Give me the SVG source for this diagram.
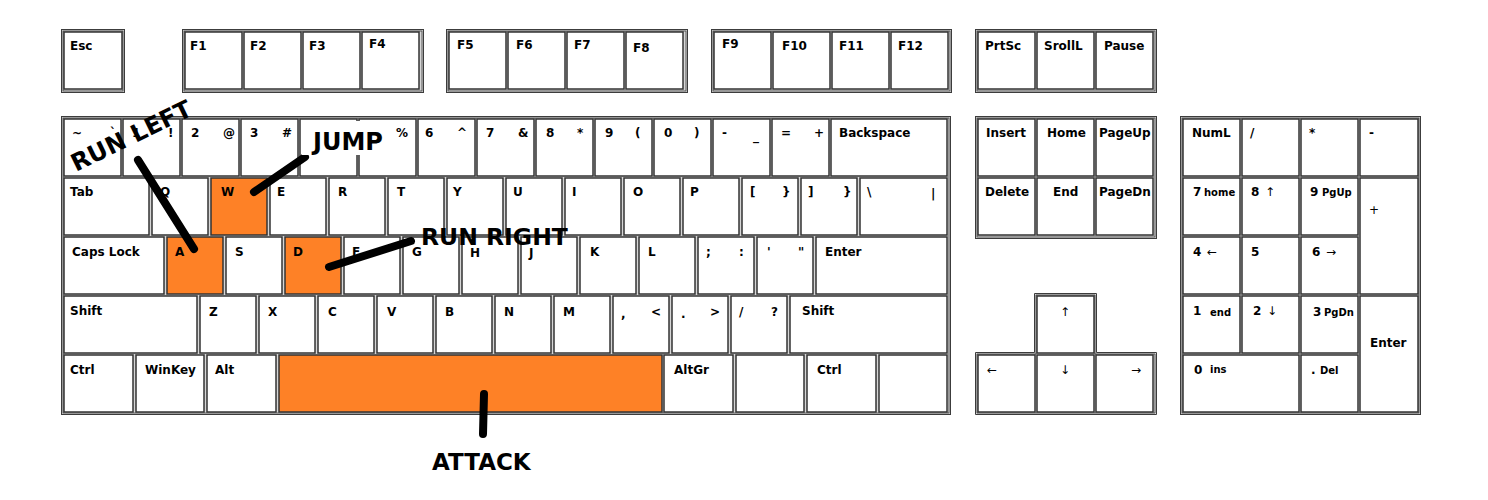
<svg xmlns="http://www.w3.org/2000/svg" width="1488" height="500" viewBox="0 0 1488 500">
<style>
.grp{fill:#d6d6d6;stroke:#3c3c3c;stroke-width:1}
.gin{fill:none;stroke:#3c3c3c;stroke-width:0.8}
.k{fill:#fff;stroke:#333;stroke-width:1.5}
.o{fill:#fe8126}
text{font-family:"DejaVu Sans",sans-serif;font-size:12px;font-weight:bold;fill:#000}
.s{font-size:10px}
.ar{font-weight:normal;fill:#000}
.big{font-size:24px}
.conn{stroke:#000;stroke-width:8;stroke-linecap:round;fill:none}
</style>
<rect width="1488" height="500" fill="#fff"/>
<g id="groups">
<rect class="grp" x="61.5" y="29.5" width="63" height="63"/><rect class="gin" x="63" y="31" width="60" height="60"/>
<rect class="grp" x="182.5" y="29.5" width="241" height="63"/><rect class="gin" x="184" y="31" width="238" height="60"/>
<rect class="grp" x="446.5" y="29.5" width="241" height="63"/><rect class="gin" x="448" y="31" width="238" height="60"/>
<rect class="grp" x="711.5" y="29.5" width="240" height="63"/><rect class="gin" x="713" y="31" width="237" height="60"/>
<rect class="grp" x="975.5" y="29.5" width="181" height="63"/><rect class="gin" x="977" y="31" width="178" height="60"/>
<rect class="grp" x="61.5" y="116.5" width="889" height="298"/><rect class="gin" x="63" y="118" width="886" height="295"/>
<rect class="grp" x="975.5" y="116.5" width="181" height="122"/><rect class="gin" x="977" y="118" width="178" height="119"/>
<path class="grp" d="M1034.5 293.5H1096.5V352.5H1156.5V414.5H975.5V352.5H1034.5Z"/>
<path class="gin" d="M1036 295H1095V354H1155V413H977V354H1036Z"/>
<rect class="grp" x="1180.5" y="116.5" width="240" height="298"/><rect class="gin" x="1182" y="118" width="237" height="295"/>
</g>
<g id="fn-row">
<g id="key-esc"><rect class="k" x="64" y="32" width="58" height="57"/><text x="70" y="50">Esc</text></g>
<g id="key-f1"><rect class="k" x="185" y="32" width="57" height="57"/><text x="190" y="50">F1</text></g>
<g id="key-f2"><rect class="k" x="244" y="32" width="57" height="57"/><text x="250" y="50">F2</text></g>
<g id="key-f3"><rect class="k" x="303" y="32" width="57" height="57"/><text x="309" y="50">F3</text></g>
<g id="key-f4"><rect class="k" x="362" y="32" width="57" height="57"/><text x="369" y="48">F4</text></g>
<g id="key-f5"><rect class="k" x="449" y="32" width="57" height="57"/><text x="457" y="49">F5</text></g>
<g id="key-f6"><rect class="k" x="508" y="32" width="57" height="57"/><text x="516" y="49">F6</text></g>
<g id="key-f7"><rect class="k" x="567" y="32" width="57" height="57"/><text x="574" y="49">F7</text></g>
<g id="key-f8"><rect class="k" x="626" y="32" width="57" height="57"/><text x="633" y="52">F8</text></g>
<g id="key-f9"><rect class="k" x="714" y="32" width="57" height="57"/><text x="722" y="48">F9</text></g>
<g id="key-f10"><rect class="k" x="773" y="32" width="57" height="57"/><text x="782" y="50">F10</text></g>
<g id="key-f11"><rect class="k" x="832" y="32" width="57" height="57"/><text x="839" y="50">F11</text></g>
<g id="key-f12"><rect class="k" x="891" y="32" width="57" height="57"/><text x="898" y="50">F12</text></g>
<g id="key-prtsc"><rect class="k" x="978" y="32" width="57" height="57"/><text x="985" y="50">PrtSc</text></g>
<g id="key-scroll"><rect class="k" x="1037" y="32" width="57" height="57"/><text x="1044" y="50">SrollL</text></g>
<g id="key-pause"><rect class="k" x="1096" y="32" width="57" height="57"/><text x="1104" y="50">Pause</text></g>
</g>
<g id="row1">
<g id="key-tilde"><rect class="k" x="64" y="119" width="57" height="57"/><text x="72" y="137">~</text><text x="110" y="137">`</text></g>
<g id="key-1"><rect class="k" x="123" y="119" width="57" height="57"/><text x="132" y="137">1</text><text x="168" y="137">!</text></g>
<g id="key-2"><rect class="k" x="182" y="119" width="57" height="57"/><text x="191" y="137">2</text><text x="223" y="137">@</text></g>
<g id="key-3"><rect class="k" x="241" y="119" width="57" height="57"/><text x="250" y="137">3</text><text x="282" y="137">#</text></g>
<g id="key-4"><rect class="k" x="300" y="119" width="57" height="57"/></g>
<g id="key-5"><rect class="k" x="359" y="119" width="57" height="57"/><text x="396" y="137">%</text></g>
<g id="key-6"><rect class="k" x="418" y="119" width="57" height="57"/><text x="425" y="137">6</text><text x="457" y="137">^</text></g>
<g id="key-7"><rect class="k" x="477" y="119" width="57" height="57"/><text x="486" y="137">7</text><text x="518" y="137">&amp;</text></g>
<g id="key-8"><rect class="k" x="536" y="119" width="57" height="57"/><text x="546" y="137">8</text><text x="577" y="137">*</text></g>
<g id="key-9"><rect class="k" x="595" y="119" width="57" height="57"/><text x="605" y="137">9</text><text x="635" y="137">(</text></g>
<g id="key-0"><rect class="k" x="654" y="119" width="57" height="57"/><text x="664" y="137">0</text><text x="694" y="137">)</text></g>
<g id="key-minus"><rect class="k" x="713" y="119" width="57" height="57"/><text x="722" y="137">-</text><text x="753" y="140">_</text></g>
<g id="key-equal"><rect class="k" x="772" y="119" width="57" height="57"/><text x="781" y="137">=</text><text x="814" y="137">+</text></g>
<g id="key-backspace"><rect class="k" x="831" y="119" width="116" height="57"/><text x="839" y="137">Backspace</text></g>
</g>
<g id="row2">
<g id="key-tab"><rect class="k" x="64" y="178" width="85" height="57"/><text x="70" y="196">Tab</text></g>
<g id="key-q"><rect class="k" x="152" y="178" width="56" height="57"/><text x="160" y="196">Q</text></g>
<g id="key-w"><rect class="k o" x="211" y="178" width="56" height="57"/><text x="221" y="196">W</text></g>
<g id="key-e"><rect class="k" x="270" y="178" width="56" height="57"/><text x="277" y="196">E</text></g>
<g id="key-r"><rect class="k" x="329" y="178" width="56" height="57"/><text x="338" y="196">R</text></g>
<g id="key-t"><rect class="k" x="388" y="178" width="56" height="57"/><text x="397" y="196">T</text></g>
<g id="key-y"><rect class="k" x="447" y="178" width="56" height="57"/><text x="453" y="196">Y</text></g>
<g id="key-u"><rect class="k" x="506" y="178" width="56" height="57"/><text x="513" y="196">U</text></g>
<g id="key-i"><rect class="k" x="565" y="178" width="56" height="57"/><text x="572" y="196">I</text></g>
<g id="key-o"><rect class="k" x="624" y="178" width="56" height="57"/><text x="633" y="196">O</text></g>
<g id="key-p"><rect class="k" x="683" y="178" width="56" height="57"/><text x="690" y="196">P</text></g>
<g id="key-lbracket"><rect class="k" x="742" y="178" width="56" height="57"/><text x="750" y="196">[</text><text x="782" y="196">}</text></g>
<g id="key-rbracket"><rect class="k" x="801" y="178" width="56" height="57"/><text x="808" y="196">]</text><text x="843" y="196">}</text></g>
<g id="key-backslash"><rect class="k" x="860" y="178" width="87" height="57"/><text x="867" y="196">\</text><text x="931" y="198">|</text></g>
</g>
<g id="row3">
<g id="key-caps"><rect class="k" x="64" y="237" width="100" height="57"/><text x="72" y="256">Caps Lock</text></g>
<g id="key-a"><rect class="k o" x="167" y="237" width="56" height="57"/><text x="175" y="256">A</text></g>
<g id="key-s"><rect class="k" x="226" y="237" width="56" height="57"/><text x="235" y="256">S</text></g>
<g id="key-d"><rect class="k o" x="285" y="237" width="56" height="57"/><text x="293" y="256">D</text></g>
<g id="key-f"><rect class="k" x="344" y="237" width="56" height="57"/><text x="352" y="256">F</text></g>
<g id="key-g"><rect class="k" x="403" y="237" width="56" height="57"/><text x="412" y="256">G</text></g>
<g id="key-h"><rect class="k" x="462" y="237" width="56" height="57"/><text x="470" y="257">H</text></g>
<g id="key-j"><rect class="k" x="521" y="237" width="56" height="57"/><text x="529" y="257">J</text></g>
<g id="key-k"><rect class="k" x="580" y="237" width="56" height="57"/><text x="590" y="256">K</text></g>
<g id="key-l"><rect class="k" x="639" y="237" width="56" height="57"/><text x="648" y="256">L</text></g>
<g id="key-semicolon"><rect class="k" x="698" y="237" width="56" height="57"/><text x="706" y="256">;</text><text x="739" y="256">:</text></g>
<g id="key-quote"><rect class="k" x="757" y="237" width="56" height="57"/><text x="767" y="256">'</text><text x="798" y="256">"</text></g>
<g id="key-enter"><rect class="k" x="816" y="237" width="131" height="57"/><text x="825" y="256">Enter</text></g>
</g>
<g id="row4">
<g id="key-lshift"><rect class="k" x="64" y="296" width="133" height="57"/><text x="70" y="315">Shift</text></g>
<g id="key-z"><rect class="k" x="200" y="296" width="56" height="57"/><text x="209" y="316">Z</text></g>
<g id="key-x"><rect class="k" x="259" y="296" width="56" height="57"/><text x="268" y="316">X</text></g>
<g id="key-c"><rect class="k" x="318" y="296" width="56" height="57"/><text x="328" y="316">C</text></g>
<g id="key-v"><rect class="k" x="377" y="296" width="56" height="57"/><text x="387" y="316">V</text></g>
<g id="key-b"><rect class="k" x="436" y="296" width="56" height="57"/><text x="445" y="316">B</text></g>
<g id="key-n"><rect class="k" x="495" y="296" width="56" height="57"/><text x="504" y="316">N</text></g>
<g id="key-m"><rect class="k" x="554" y="296" width="56" height="57"/><text x="563" y="316">M</text></g>
<g id="key-comma"><rect class="k" x="613" y="296" width="56" height="57"/><text x="621" y="318">,</text><text x="651" y="316">&lt;</text></g>
<g id="key-period"><rect class="k" x="672" y="296" width="56" height="57"/><text x="681" y="318">.</text><text x="710" y="316">&gt;</text></g>
<g id="key-slash"><rect class="k" x="731" y="296" width="56" height="57"/><text x="739" y="316">/</text><text x="771" y="316">?</text></g>
<g id="key-rshift"><rect class="k" x="790" y="296" width="157" height="57"/><text x="802" y="315">Shift</text></g>
</g>
<g id="row5">
<g id="key-lctrl"><rect class="k" x="64" y="355" width="69" height="57"/><text x="70" y="374">Ctrl</text></g>
<g id="key-winkey"><rect class="k" x="136" y="355" width="68" height="57"/><text x="145" y="374">WinKey</text></g>
<g id="key-alt"><rect class="k" x="207" y="355" width="69" height="57"/><text x="215" y="374">Alt</text></g>
<g id="key-space"><rect class="k o" x="279" y="355" width="383" height="57"/></g>
<g id="key-altgr"><rect class="k" x="664" y="355" width="69" height="57"/><text x="674" y="374">AltGr</text></g>
<g id="key-blank1"><rect class="k" x="736" y="355" width="68" height="57"/></g>
<g id="key-rctrl"><rect class="k" x="807" y="355" width="69" height="57"/><text x="817" y="374">Ctrl</text></g>
<g id="key-blank2"><rect class="k" x="879" y="355" width="68" height="57"/></g>
</g>
<g id="nav">
<g id="key-insert"><rect class="k" x="978" y="119" width="57" height="57"/><text x="986" y="137">Insert</text></g>
<g id="key-home"><rect class="k" x="1037" y="119" width="57" height="57"/><text x="1047" y="137">Home</text></g>
<g id="key-pageup"><rect class="k" x="1096" y="119" width="57" height="57"/><text x="1099" y="137">PageUp</text></g>
<g id="key-delete"><rect class="k" x="978" y="178" width="57" height="57"/><text x="985" y="196">Delete</text></g>
<g id="key-end"><rect class="k" x="1037" y="178" width="57" height="57"/><text x="1053" y="196">End</text></g>
<g id="key-pagedn"><rect class="k" x="1096" y="178" width="57" height="57"/><text x="1099" y="196">PageDn</text></g>
<g id="key-up"><rect class="k" x="1037" y="296" width="57" height="57"/><text class="ar" x="1060" y="316">↑</text></g>
<g id="key-left"><rect class="k" x="978" y="355" width="57" height="57"/><text class="ar" x="987" y="374">←</text></g>
<g id="key-down"><rect class="k" x="1037" y="355" width="57" height="57"/><text class="ar" x="1060" y="374">↓</text></g>
<g id="key-right"><rect class="k" x="1096" y="355" width="57" height="57"/><text class="ar" x="1131" y="374">→</text></g>
</g>
<g id="numpad">
<g id="key-numl"><rect class="k" x="1183" y="119" width="57" height="57"/><text x="1192" y="137">NumL</text></g>
<g id="key-ndiv"><rect class="k" x="1242" y="119" width="57" height="57"/><text x="1250" y="137">/</text></g>
<g id="key-nmul"><rect class="k" x="1301" y="119" width="57" height="57"/><text x="1309" y="137">*</text></g>
<g id="key-nsub"><rect class="k" x="1360" y="119" width="58" height="57"/><text x="1369" y="137">-</text></g>
<g id="key-n7"><rect class="k" x="1183" y="178" width="57" height="57"/><text x="1193" y="196">7</text><text class="s" x="1204" y="196">home</text></g>
<g id="key-n8"><rect class="k" x="1242" y="178" width="57" height="57"/><text x="1251" y="196">8</text><text class="ar" x="1265" y="196">↑</text></g>
<g id="key-n9"><rect class="k" x="1301" y="178" width="57" height="57"/><text x="1310" y="196">9</text><text class="s" x="1322" y="196">PgUp</text></g>
<g id="key-nadd"><rect class="k" x="1360" y="178" width="58" height="116"/><text class="ar" x="1369" y="214">+</text></g>
<g id="key-n4"><rect class="k" x="1183" y="237" width="57" height="57"/><text x="1193" y="256">4</text><text class="ar" x="1207" y="256">←</text></g>
<g id="key-n5"><rect class="k" x="1242" y="237" width="57" height="57"/><text x="1251" y="256">5</text></g>
<g id="key-n6"><rect class="k" x="1301" y="237" width="57" height="57"/><text x="1312" y="256">6</text><text class="ar" x="1326" y="256">→</text></g>
<g id="key-n1"><rect class="k" x="1183" y="296" width="57" height="57"/><text x="1193" y="315">1</text><text class="s" x="1210" y="316">end</text></g>
<g id="key-n2"><rect class="k" x="1242" y="296" width="57" height="57"/><text x="1253" y="315">2</text><text class="ar" x="1267" y="315">↓</text></g>
<g id="key-n3"><rect class="k" x="1301" y="296" width="57" height="57"/><text x="1313" y="316">3</text><text class="s" x="1324" y="316">PgDn</text></g>
<g id="key-nenter"><rect class="k" x="1360" y="296" width="58" height="116"/><text x="1370" y="347">Enter</text></g>
<g id="key-n0"><rect class="k" x="1183" y="355" width="116" height="57"/><text x="1194" y="374">0</text><text class="s" x="1210" y="373">ins</text></g>
<g id="key-ndot"><rect class="k" x="1301" y="355" width="57" height="57"/><text x="1311" y="374">.</text><text class="s" x="1320" y="374">Del</text></g>
</g>
<g id="connectors">
<line class="conn" x1="138" y1="160" x2="194" y2="249"/>
<line class="conn" x1="305" y1="157" x2="254" y2="192"/>
<line class="conn" x1="411" y1="241" x2="329" y2="267"/>
<line class="conn" x1="484" y1="394" x2="483" y2="434"/>
</g>
<g id="label-jump"><rect x="302" y="121" width="93" height="34" fill="#fff"/><text class="big" x="313" y="150">JUMP</text></g>
<g id="label-runleft"><text class="big" transform="translate(76,172) rotate(-26)">RUN LEFT</text></g>
<g id="label-runright"><text class="big" x="421" y="245" style="font-size:23.5px">RUN RIGHT</text></g>
<g id="label-attack"><text class="big" x="432" y="470" style="font-size:23px">ATTACK</text></g>
</svg>
